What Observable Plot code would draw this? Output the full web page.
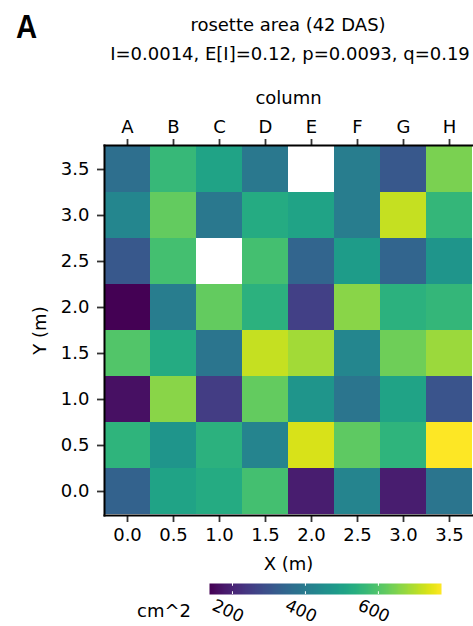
<!DOCTYPE html>
<html>
<head>
<meta charset="utf-8">
<script src="https://cdn.jsdelivr.net/npm/d3@7"></script>
<script src="https://cdn.jsdelivr.net/npm/@observablehq/plot@0.6"></script>
<style>
  html, body { margin: 0; padding: 0; background: white; }
  #wrap { position: relative; width: 473px; height: 626px; overflow: hidden; background: white; font-family: "DejaVu Sans", sans-serif; color: #000; }
  .abs { position: absolute; white-space: nowrap; line-height: 18px; font-size: 18px; }
  #panel { position: absolute; left: 16px; top: 9px; font-family: "Liberation Sans", Arial, sans-serif; font-weight: bold; font-size: 34px; line-height: 34px; transform: scaleX(0.86); transform-origin: left top; }
  #main { position: absolute; left: 0; top: 0; }
  #legend { position: absolute; left: 0; top: 572px; }
</style>
</head>
<body>
<div id="wrap">
  <div id="main"></div>
  <div id="legend"></div>
  <div id="panel">A</div>
  <div class="abs" id="title" style="left:104px; width:368px; top:16px; text-align:center;">rosette area (42 DAS)</div>
  <div class="abs" id="subtitle" style="left:98px; width:384px; top:45px; text-align:center;">I=0.0014, E[I]=0.12, p=0.0093, q=0.19</div>
  <div class="abs" id="unit" style="left:137px; top:602px;">cm^2</div>
</div>
<script>
// ---- data ----
const columns = ["A", "B", "C", "D", "E", "F", "G", "H"];
const xValues = [0.0, 0.5, 1.0, 1.5, 2.0, 2.5, 3.0, 3.5];
const yValues = [3.5, 3.0, 2.5, 2.0, 1.5, 1.0, 0.5, 0.0];
// rosette area (cm^2), one row per Y value (top to bottom), columns A..H; null = missing
const row_y35 = [366, 563, 506, 391, null, 404, 309, 646];
const row_y30 = [430, 620, 391, 525, 506, 404, 716, 557];
const row_y25 = [309, 582, null, 582, 341, 487, 341, 468];
const row_y20 = [137, 404, 620, 544, 258, 659, 544, 557];
const row_y15 = [601, 525, 385, 716, 684, 430, 633, 678];
const row_y10 = [162, 659, 251, 620, 468, 385, 506, 302];
const row_y05 = [550, 468, 544, 423, 735, 614, 550, 773];
const row_y00 = [334, 506, 525, 582, 188, 423, 188, 385];
const rows = [row_y35, row_y30, row_y25, row_y20, row_y15, row_y10, row_y05, row_y00];
const colorDomain = [137, 773];
const legendTicks = [200, 400, 600];
const legendLabel = "cm^2";

const cells = [];
rows.forEach((r, i) => r.forEach((v, j) => {
  if (v != null) cells.push({x: xValues[j], y: yValues[i], v});
}));

const fmt = d => d.toFixed(1);
const font = {fontFamily: "DejaVu Sans, sans-serif", fontSize: "18px", background: "white", color: "#000", overflow: "visible"};

const main = Plot.plot({
  width: 473, height: 572,
  marginLeft: 104, marginRight: 1, marginTop: 145, marginBottom: 57,
  style: font,
  x: {type: "band", domain: xValues, padding: 0},
  y: {type: "band", domain: yValues, padding: 0},
  color: {type: "linear", scheme: "viridis", domain: colorDomain},
  marks: [
    Plot.cell(cells, {x: "x", y: "y", fill: "v", inset: 0, shapeRendering: "crispEdges"}),
    Plot.axisX({anchor: "bottom", tickSize: 7, tickPadding: 6, tickFormat: fmt, stroke: "#333", strokeWidth: 1.8,
      label: "X (m)", labelAnchor: "center", labelOffset: 54}),
    Plot.axisX({anchor: "top", tickSize: 7, tickPadding: 6, tickFormat: d => columns[xValues.indexOf(d)], stroke: "#333", strokeWidth: 1.8,
      label: "column", labelAnchor: "center", labelOffset: 54}),
    Plot.axisY({anchor: "left", tickSize: 7, tickPadding: 8, tickFormat: fmt, stroke: "#333", strokeWidth: 1.8,
      label: "Y (m)", labelAnchor: "center", labelOffset: 71}),
    Plot.frame({anchor: "top", stroke: "#000", strokeWidth: 2}),
    Plot.frame({anchor: "left", stroke: "#000", strokeWidth: 2}),
    Plot.frame({anchor: "bottom", stroke: "#000", strokeWidth: 2})
  ]
});
document.getElementById("main").appendChild(main);

const legend = Plot.plot({
  width: 473, height: 54,
  marginLeft: 209, marginRight: 32, marginTop: 11, marginBottom: 32,
  style: font,
  x: {domain: colorDomain, axis: null},
  y: {domain: [0, 1], axis: null},
  color: {type: "linear", scheme: "viridis", domain: colorDomain},
  marks: [
    Plot.raster({fill: (x, y) => x, x1: colorDomain[0], x2: colorDomain[1], y1: 0, y2: 1, width: 232, height: 1, imageRendering: "auto"}),
    Plot.ruleX(legendTicks, {x: d => d, y1: 0.75, y2: 1, stroke: "white", strokeWidth: 1}),
    Plot.ruleX(legendTicks, {x: d => d, y1: 0, y2: 0.25, stroke: "white", strokeWidth: 1}),
    Plot.text(legendTicks, {x: d => d, y: 0, dy: 16.5, dx: -4.5, text: d => String(d), rotate: 24, textAnchor: "middle", fill: "#000", fontSize: 17})
  ]
});
document.getElementById("legend").appendChild(legend);
document.getElementById("unit").textContent = legendLabel;
</script>
</body>
</html>
